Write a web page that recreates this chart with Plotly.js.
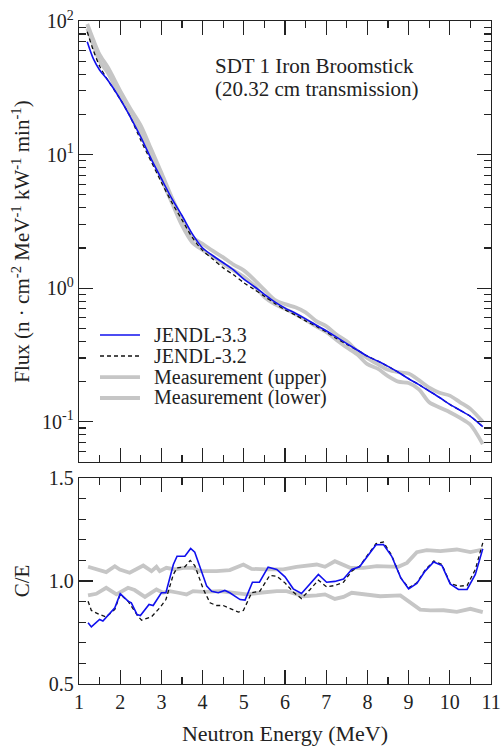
<!DOCTYPE html>
<html>
<head>
<meta charset="utf-8">
<script src="https://cdn.plot.ly/plotly-3.0.1.min.js"></script>
<style>
  html, body { margin: 0; padding: 0; background: #fff; }
  #chart { width: 502px; height: 746px; }
</style>
</head>
<body>
<div id="chart"></div>
<script>
// ---- Flux spectra (upper panel) ----
const fluxEnergy = [1.2, 1.35, 1.5, 1.7, 2.0, 2.25, 2.5, 2.75, 3.0, 3.25, 3.5, 3.75, 4.0, 4.25, 4.5, 4.75,
  5.0, 5.25, 5.5, 5.75, 6.0, 6.25, 6.5, 6.75, 7.0, 7.25, 7.5, 7.75, 8.0, 8.25, 8.5, 8.75,
  9.0, 9.25, 9.5, 9.75, 10.0, 10.25, 10.5, 10.8];
const fluxJendl33 = [70, 52, 43, 36, 26, 19, 13.5, 9.3, 6.6, 4.7, 3.5, 2.55, 2.0, 1.75, 1.55, 1.37,
  1.17, 1.03, 0.90, 0.79, 0.71, 0.65, 0.59, 0.53, 0.48, 0.43, 0.385, 0.345, 0.31, 0.285, 0.26, 0.235,
  0.21, 0.19, 0.17, 0.152, 0.135, 0.122, 0.11, 0.092];
const fluxJendl32 = [83, 60, 46, 36, 26, 19, 12.8, 8.9, 6.2, 4.4, 3.25, 2.4, 1.92, 1.65, 1.42, 1.26,
  1.10, 0.98, 0.87, 0.77, 0.69, 0.63, 0.57, 0.52, 0.47, 0.42, 0.38, 0.345, 0.31, 0.285, 0.26, 0.235,
  0.21, 0.19, 0.17, 0.152, 0.135, 0.122, 0.11, 0.092];
const fluxMeasUpper = [95, 72, 56, 45, 30, 22, 16.5, 11, 7.3, 4.8, 3.3, 2.4, 2.15, 1.9, 1.7, 1.5,
  1.36, 1.16, 0.97, 0.82, 0.76, 0.72, 0.66, 0.57, 0.52, 0.45, 0.40, 0.34, 0.30, 0.27, 0.245, 0.235,
  0.23, 0.205, 0.18, 0.165, 0.157, 0.14, 0.125, 0.10];
const fluxMeasLower = [88, 66, 50, 41, 27, 20, 14.5, 10, 6.6, 4.4, 2.95, 2.2, 1.93, 1.72, 1.52, 1.36,
  1.22, 1.05, 0.86, 0.76, 0.70, 0.64, 0.58, 0.52, 0.47, 0.41, 0.36, 0.32, 0.27, 0.25, 0.22, 0.20,
  0.195, 0.175, 0.14, 0.128, 0.118, 0.107, 0.095, 0.068];

// ---- Calculation / experiment ratios (lower panel) ----
const ceEnergy33 = [1.22, 1.30, 1.50, 1.58, 1.87, 2.0, 2.19, 2.27, 2.41, 2.49, 2.70, 2.80, 3.0, 3.11,
  3.29, 3.38, 3.57, 3.71, 3.81, 4.10, 4.22, 4.38, 4.54, 4.66, 4.91, 5.03, 5.21, 5.38, 5.59, 5.80,
  6.0, 6.20, 6.40, 6.81, 7.01, 7.21, 7.42, 7.62, 7.81, 7.98, 8.21, 8.39, 8.59, 8.81, 9.0, 9.20,
  9.40, 9.61, 9.81, 10.01, 10.21, 10.42, 10.62, 10.80];
const ce33 = [0.797, 0.777, 0.813, 0.806, 0.87, 0.938, 0.902, 0.894, 0.837, 0.832, 0.886, 0.881, 0.943, 0.943,
  1.08, 1.12, 1.12, 1.158, 1.14, 0.975, 0.95, 0.943, 0.954, 0.943, 0.91, 0.907, 0.994, 0.994, 1.067, 1.056,
  1.02, 0.962, 0.939, 1.032, 0.994, 0.998, 1.01, 1.056, 1.069, 1.117, 1.176, 1.177, 1.12, 1.015, 0.962, 0.988,
  1.048, 1.092, 1.075, 0.986, 0.959, 0.959, 1.032, 1.156];
const ceEnergy32 = [1.22, 1.30, 1.50, 1.66, 1.87, 2.0, 2.19, 2.43, 2.52, 2.76, 2.96, 3.11, 3.29, 3.38,
  3.57, 3.70, 3.81, 4.02, 4.18, 4.34, 4.50, 4.70, 4.87, 4.99, 5.19, 5.39, 5.63, 5.80, 6.0, 6.20,
  6.40, 6.61, 6.81, 7.01, 7.21, 7.42, 7.62, 7.81, 7.98, 8.21, 8.39, 8.59, 8.81, 9.0, 9.20, 9.40,
  9.61, 9.81, 10.01, 10.21, 10.42, 10.62, 10.82];
const ce32 = [0.902, 0.857, 0.837, 0.826, 0.862, 0.935, 0.902, 0.829, 0.81, 0.826, 0.87, 0.91, 1.032, 1.064,
  1.069, 1.10, 1.075, 0.959, 0.894, 0.881, 0.881, 0.862, 0.849, 0.857, 0.943, 0.951, 1.027, 1.023, 0.991, 0.946,
  0.915, 0.959, 1.004, 0.972, 0.978, 0.994, 1.048, 1.072, 1.12, 1.182, 1.189, 1.124, 1.015, 0.967, 0.991, 1.053,
  1.097, 1.08, 0.988, 0.975, 0.978, 1.056, 1.199];
const ceEnergyUpper = [1.22, 1.42, 1.66, 1.87, 1.99, 2.23, 2.56, 2.76, 2.88, 2.96, 3.12, 3.33, 3.53, 3.77,
  3.93, 4.34, 4.66, 4.99, 5.19, 5.55, 5.96, 6.28, 6.77, 6.97, 7.21, 7.58, 7.90, 8.23, 8.75, 8.96,
  9.20, 9.44, 9.77, 10.17, 10.50, 10.80];
const ceUpper = [1.069, 1.059, 1.043, 1.072, 1.056, 1.04, 1.075, 1.048, 1.069, 1.048, 1.064, 1.056, 1.064, 1.064,
  1.048, 1.048, 1.053, 1.08, 1.059, 1.056, 1.056, 1.069, 1.08, 1.069, 1.096, 1.064, 1.064, 1.072, 1.069, 1.088,
  1.14, 1.15, 1.145, 1.153, 1.14, 1.153];
const ceEnergyLower = [1.22, 1.42, 1.66, 1.91, 2.19, 2.35, 2.60, 2.88, 3.04, 3.20, 3.41, 3.61, 3.77, 4.02,
  4.42, 4.74, 5.07, 5.39, 5.80, 6.04, 6.45, 6.77, 6.97, 7.21, 7.42, 7.62, 7.98, 8.31, 8.80, 9.04,
  9.28, 9.53, 9.85, 10.17, 10.50, 10.80];
const ceLower = [0.93, 0.938, 0.967, 0.935, 0.967, 0.956, 0.923, 0.959, 0.943, 0.951, 0.943, 0.935, 0.951, 0.947,
  0.951, 0.943, 0.935, 0.943, 0.951, 0.951, 0.926, 0.93, 0.935, 0.913, 0.923, 0.943, 0.935, 0.926, 0.93, 0.897,
  0.861, 0.857, 0.858, 0.85, 0.865, 0.849];

const legendNames = ['JENDL-3.3', 'JENDL-3.2', 'Measurement (upper)', 'Measurement (lower)'];

const FONT = 'Liberation Serif';
const BLUE = '#1010ee';
const BLACK = '#111111';
const GRAY = '#c6c6c6';
const AXIS = '#222222';

const styles = [
  {color: BLUE, width: 1.6, dash: 'solid'},
  {color: BLACK, width: 1.3, dash: '4px,3px'},
  {color: GRAY, width: 3.8, dash: 'solid'},
  {color: GRAY, width: 3.8, dash: 'solid'}
];

function makeTrace(x, y, i, axes, shape) {
  return {
    x: x, y: y, type: 'scatter', mode: 'lines', name: legendNames[i],
    xaxis: axes[0], yaxis: axes[1], showlegend: false, hoverinfo: 'skip',
    line: {color: styles[i].color, width: styles[i].width, dash: styles[i].dash, shape: shape, smoothing: 0.8}
  };
}

const fluxAxes = ['x2', 'y2'];
const ratioAxes = ['x', 'y'];
const data = [
  // grey bands first so the calculations sit on top
  makeTrace(fluxEnergy, fluxMeasUpper, 2, fluxAxes, 'spline'),
  makeTrace(fluxEnergy, fluxMeasLower, 3, fluxAxes, 'spline'),
  makeTrace(fluxEnergy, fluxJendl32, 1, fluxAxes, 'spline'),
  makeTrace(fluxEnergy, fluxJendl33, 0, fluxAxes, 'spline'),
  makeTrace(ceEnergyUpper, ceUpper, 2, ratioAxes, 'linear'),
  makeTrace(ceEnergyLower, ceLower, 3, ratioAxes, 'linear'),
  makeTrace(ceEnergy32, ce32, 1, ratioAxes, 'linear'),
  makeTrace(ceEnergy33, ce33, 0, ratioAxes, 'linear')
];

// log-axis minor tick positions (2..9 within each decade)
const logMinor = [];
[0.01, 0.1, 1, 10].forEach(function (d) {
  for (let k = 2; k <= 9; k++) logMinor.push(d * k);
});

const tickFont = {family: FONT, size: 20, color: '#222'};
const titleFont = {family: FONT, size: 21, color: '#222'};
const xTitleFont = {family: FONT, size: 22, color: '#222'};

const xCommon = {
  range: [1, 11], dtick: 1, tick0: 1,
  showline: true, linecolor: AXIS, linewidth: 1.3, mirror: 'ticks',
  ticks: 'inside', ticklen: 14, tickwidth: 1.2, tickcolor: AXIS,
  minor: {ticks: 'inside', dtick: 0.5, ticklen: 7, tickwidth: 1.2, tickcolor: AXIS},
  showgrid: false, zeroline: false, tickfont: tickFont
};

const layout = {
  width: 502, height: 746,
  margin: {l: 79, r: 11, t: 21, b: 62},
  paper_bgcolor: '#fff', plot_bgcolor: '#fff',
  font: {family: FONT, color: '#222'},
  showlegend: false,
  xaxis: Object.assign({}, xCommon, {
    anchor: 'y',
    title: {text: 'Neutron Energy (MeV)', font: xTitleFont, standoff: 15}
  }),
  xaxis2: Object.assign({}, xCommon, {anchor: 'y2', matches: 'x', showticklabels: false}),
  yaxis: {
    domain: [0, 0.3107], range: [0.5, 1.5], dtick: 0.5, tick0: 0.5, tickformat: '.1f',
    showline: true, linecolor: AXIS, linewidth: 1.3, mirror: 'ticks',
    ticks: 'inside', ticklen: 14, tickwidth: 1.2, tickcolor: AXIS,
    minor: {ticks: 'inside', dtick: 0.1, ticklen: 7, tickwidth: 1.2, tickcolor: AXIS},
    showgrid: false, zeroline: false, tickfont: tickFont,
    title: {text: 'C/E', font: titleFont, standoff: 13}
  },
  yaxis2: {
    domain: [0.3348, 1], type: 'log', range: [Math.log10(0.05), 2],
    tickmode: 'array', tickvals: [0.1, 1, 10, 100],
    ticktext: ['10<sup>-1</sup>', '10<sup>0</sup>', '10<sup>1</sup>', '10<sup>2</sup>'],
    showline: true, linecolor: AXIS, linewidth: 1.3, mirror: 'ticks',
    ticks: 'inside', ticklen: 14, tickwidth: 1.2, tickcolor: AXIS,
    minor: {ticks: 'inside', tickmode: 'array', tickvals: logMinor, ticklen: 7, tickwidth: 1.2, tickcolor: AXIS},
    showgrid: false, zeroline: false, tickfont: tickFont,
    title: {
      text: 'Flux (n \u00b7 cm<sup>-2</sup> MeV<sup>-1</sup> kW<sup>-1</sup> min<sup>-1</sup>)',
      font: titleFont, standoff: 6
    }
  },
  annotations: [],
  shapes: []
};

// Panel caption
layout.annotations.push(
  {xref: 'paper', yref: 'paper', x: 0.325, y: 0.932, xanchor: 'left', yanchor: 'middle',
   text: 'SDT 1 Iron Broomstick', showarrow: false, font: titleFont},
  {xref: 'paper', yref: 'paper', x: 0.325, y: 0.897, xanchor: 'left', yanchor: 'middle',
   text: '(20.32 cm transmission)', showarrow: false, font: titleFont}
);

// Key for the four curves, stacked with tight spacing
const keyRows = [0.5264, 0.4947, 0.4630, 0.4314];
keyRows.forEach(function (yy, i) {
  layout.shapes.push({
    type: 'line', xref: 'paper', yref: 'paper', x0: 0.051, x1: 0.148, y0: yy, y1: yy,
    line: {color: styles[i].color, width: styles[i].width, dash: styles[i].dash}
  });
  layout.annotations.push({
    xref: 'paper', yref: 'paper', x: 0.177, y: yy, xanchor: 'left', yanchor: 'middle',
    text: legendNames[i], showarrow: false, font: {family: FONT, size: 20, color: '#222'}
  });
});

Plotly.newPlot('chart', data, layout, {staticPlot: true, displayModeBar: false});
</script>
</body>
</html>
